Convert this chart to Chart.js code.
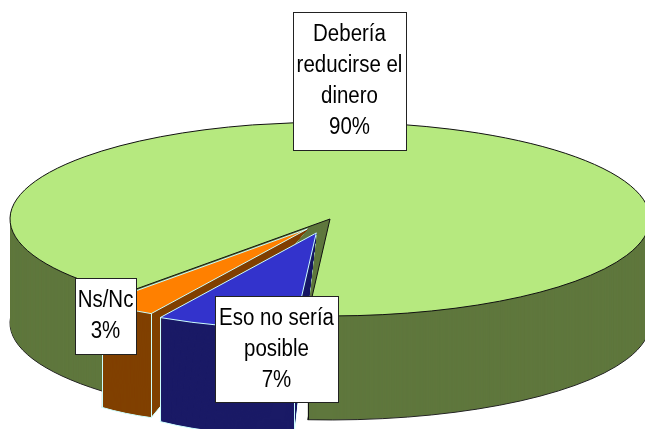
<!DOCTYPE html>
<html>
<head>
<meta charset="utf-8">
<style>html,body{margin:0;padding:0;background:#fff}canvas{display:block}</style>
<script src="https://cdn.jsdelivr.net/npm/chart.js@4"></script>
</head>
<body>
<canvas id="c" width="645" height="429"></canvas>
<script>
const categories = [['Debería','reducirse el','dinero'], ['Eso no sería','posible'], ['Ns/Nc']];
const values = [90, 7, 3];

const topColors  = ['#B6E97F', '#3333CC', '#FF8000'];
const wallColors = ['#5F773D', '#1A1A66', '#804000'];
const edgeColors = ['#111111', '#CCFFFF', '#CCFFFF'];

const pie3d = {
  id: 'pie3d',
  beforeDatasetDraw(chart, args, opts) {
    const ctx = chart.ctx, arcs = chart.getDatasetMeta(0).data;
    const origStroke = ctx.stroke;
    // keep stroke width even although the path is squashed
    ctx.stroke = function () {
      ctx.save(); ctx.setTransform(1, 0, 0, 1, 0, 0); origStroke.call(ctx); ctx.restore();
    };
    const style = (fill, stroke, w) => ({
      backgroundColor: fill, borderColor: stroke, borderWidth: w, borderAlign: 'center',
      borderJoinStyle: 'miter', offset: 0, spacing: 0, circular: true, borderRadius: 0,
      borderDash: [], borderDashOffset: 0
    });
    // Draw a slice at drop d. The big slice drops as a whole; exploded wedges keep
    // their tip fixed and only their rim drops, which shears them about the tip.
    const stamp = (arc, i, d, fill, stroke, w) => {
      const mid = (arc.startAngle + arc.endAngle) / 2, ex = opts.explode[i] * arc.outerRadius;
      const mx = Math.cos(mid), my = Math.sin(mid);
      const apexX = arc.x + mx * ex, apexY = arc.y + my * ex * opts.tilt;
      ctx.save();
      if (i === 0) {
        ctx.translate(apexX, apexY + d);
        ctx.scale(1, opts.tilt);
      } else {
        const rc = arc.outerRadius * Math.cos((arc.endAngle - arc.startAngle) / 2);
        ctx.translate(apexX, apexY);
        ctx.transform(1, d * mx / rc, 0, opts.tilt + d * my / rc, 0, 0);
      }
      ctx.translate(-arc.x, -arc.y);
      const keep = arc.options;
      arc.options = style(fill, stroke, w);
      arc.draw(ctx);
      arc.options = keep;
      ctx.restore();
    };
    [0, 2, 1].forEach(i => {
      const arc = arcs[i];
      const mid = (arc.startAngle + arc.endAngle) / 2, ex = opts.explode[i] * arc.outerRadius;
      stamp(arc, i, opts.depth, wallColors[i], i === 0 ? '#222222' : edgeColors[i], 1);
      for (let d = opts.depth - 1; d > 0; d--) stamp(arc, i, d, wallColors[i], wallColors[i], 0);
      ctx.save();
      ctx.strokeStyle = edgeColors[i];
      ctx.lineWidth = 1;
      (i === 0 ? [arc.endAngle] : [arc.startAngle, arc.endAngle]).forEach(a => {
        const x = arc.x + Math.cos(mid) * ex + arc.outerRadius * Math.cos(a);
        const y = arc.y + (Math.sin(mid) * ex + arc.outerRadius * Math.sin(a)) * opts.tilt;
        ctx.beginPath();
        ctx.moveTo(Math.round(x) + .5, y);
        ctx.lineTo(Math.round(x) + .5, y + opts.depth);
        ctx.stroke();
      });
      ctx.restore();
      stamp(arc, i, 0, topColors[i], edgeColors[i], 1);
    });
    ctx.stroke = origStroke;
    return false;
  },
  afterDraw(chart, args, opts) {
    const ctx = chart.ctx;
    opts.boxes.forEach((b, i) => {
      ctx.save();
      ctx.fillStyle = '#fff';
      ctx.strokeStyle = '#222';
      ctx.lineWidth = 1;
      ctx.fillRect(b.x, b.y, b.w, b.h);
      ctx.strokeRect(b.x + .5, b.y + .5, b.w, b.h);
      ctx.fillStyle = '#000';
      ctx.font = opts.fontSize + 'px "Liberation Sans"';
      ctx.textAlign = 'center';
      ctx.textBaseline = 'middle';
      const lines = categories[i].concat(values[i] + '%');
      const cx = b.x + b.w / 2;
      lines.forEach((t, k) => {
        ctx.save();
        ctx.translate(cx, b.first + k * opts.lineGap);
        ctx.scale(opts.squeeze, 1);
        ctx.fillText(t, 0, 0);
        ctx.restore();
      });
      ctx.restore();
    });
  }
};

new Chart(document.getElementById('c'), {
  type: 'pie',
  data: {
    labels: categories.map(c => c.join(' ')),
    datasets: [{ data: values, backgroundColor: topColors }]
  },
  plugins: [pie3d],
  options: {
    responsive: false,
    animation: false,
    radius: 320,
    rotation: 220,
    layout: { padding: { left: 15, top: 9 } },
    events: [],
    plugins: {
      legend: { display: false },
      tooltip: { enabled: false },
      pie3d: {
        tilt: 0.303,
        depth: 104,
        explode: [0, 0.15, 0.125],
        fontSize: 23,
        lineGap: 31,
        squeeze: 0.89,
        boxes: [
          { x: 293, y: 12, w: 113, h: 138, first: 35 },
          { x: 215, y: 296, w: 123, h: 106, first: 319 },
          { x: 75, y: 278, w: 61, h: 76, first: 301 }
        ]
      }
    }
  }
});
</script>
</body>
</html>
